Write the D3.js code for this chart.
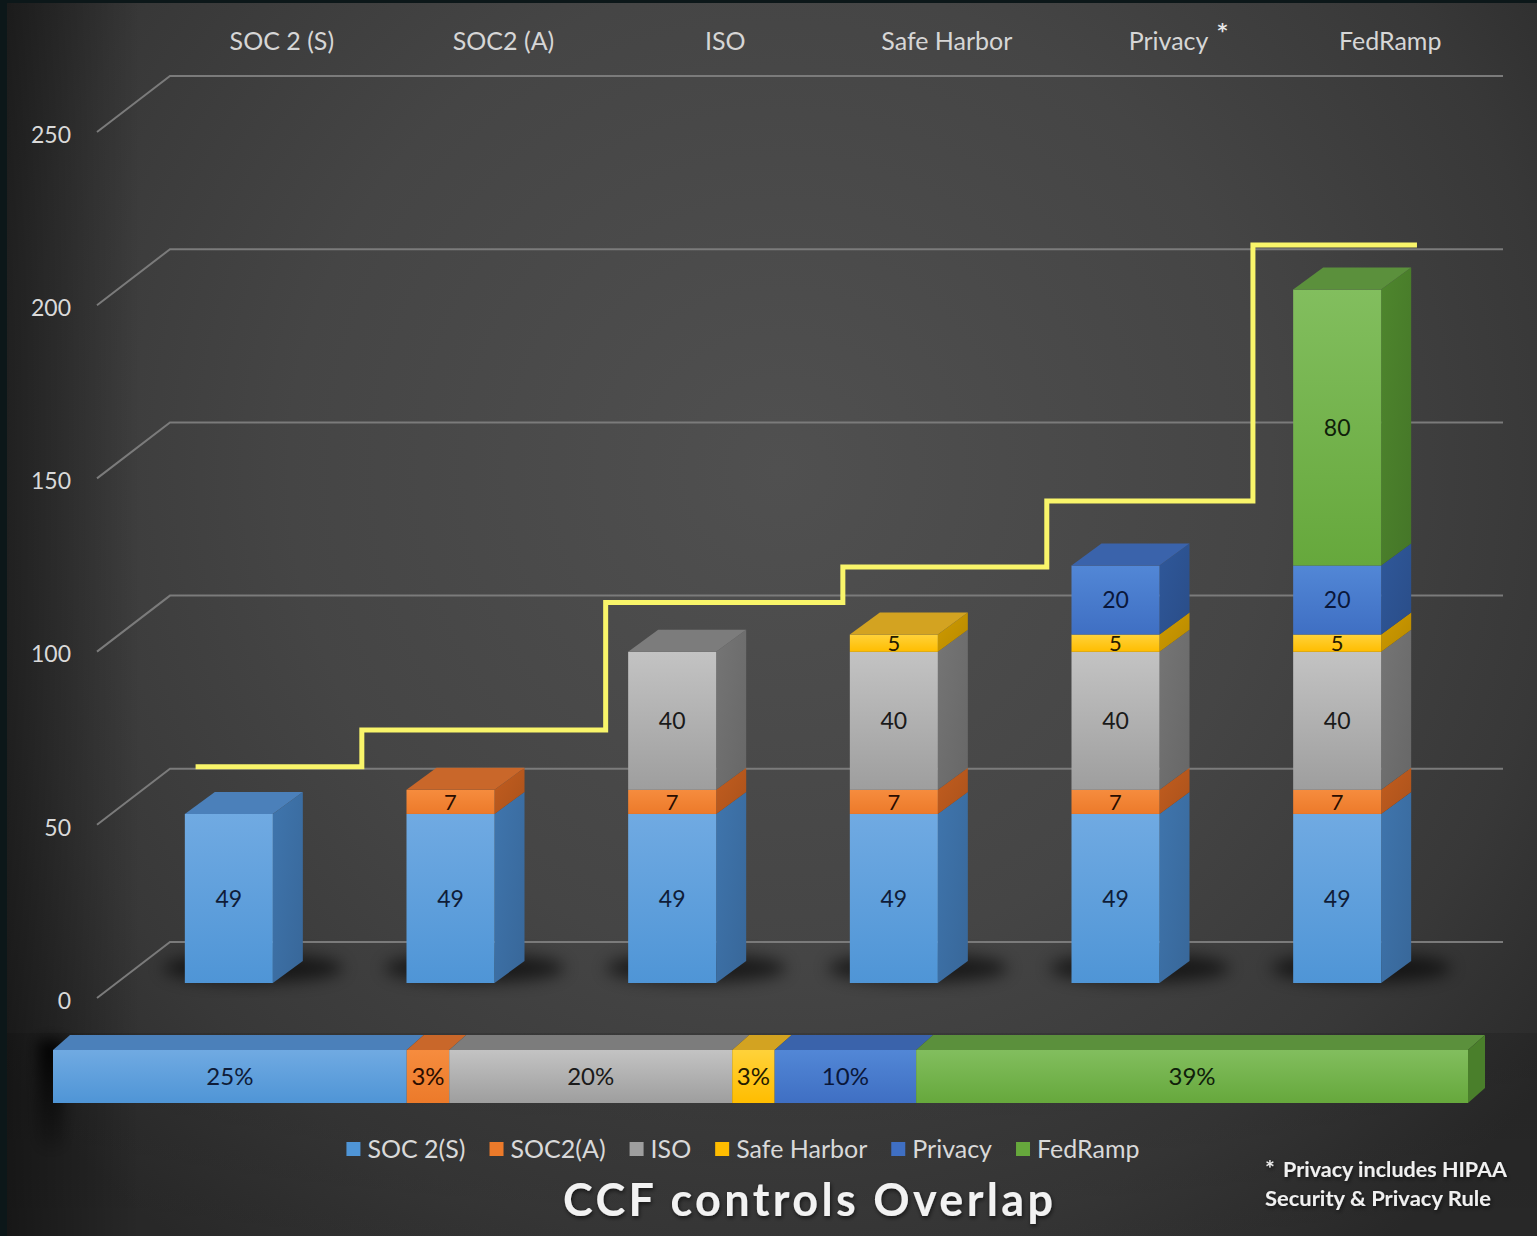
<!DOCTYPE html>
<html><head><meta charset="utf-8">
<script src="https://cdn.jsdelivr.net/npm/d3@7"></script>
<style>html,body{margin:0;padding:0;background:#2e2e2e;}svg{display:block;}</style>
</head><body>
<svg id="chart" width="1537" height="1236"></svg>
<script>
// ---------------- DATA ----------------
const categories = ["SOC 2 (S)", "SOC2 (A)", "ISO", "Safe Harbor", "Privacy", "FedRamp"];
const seriesNames = ["SOC 2(S)", "SOC2(A)", "ISO", "Safe Harbor", "Privacy", "FedRamp"];
const soc2S      = [49, 49, 49, 49, 49, 49];
const soc2A      = [0, 7, 7, 7, 7, 7];
const iso        = [0, 0, 40, 40, 40, 40];
const safeHarbor = [0, 0, 0, 5, 5, 5];
const privacy    = [0, 0, 0, 0, 20, 20];
const fedRamp    = [0, 0, 0, 0, 0, 80];
const yTicks = [0, 50, 100, 150, 200, 250];
const sharePercent = [25, 3, 20, 3, 10, 39];
// yellow cumulative step line (hand drawn overlay): levels in value units, breaks in category-index units
const stepLevels = [62.7, 73.3, 110.3, 120.6, 139.7, 213.9];
const stepBreaks = [-0.15, 0.60, 1.70, 2.77, 3.69, 4.62, 5.36];
const footnoteLines = ["Privacy includes HIPAA", "Security & Privacy Rule"];
const chartTitle = "CCF controls Overlap";

// ---------------- STYLE ----------------
const palette = [
  {f0:"#70aae2", f1:"#4f95d6", side:"#3c6fa4", top:"#4b80ba", txt:"#0f1c38"},
  {f0:"#f68c3e", f1:"#ec7a2a", side:"#b8581d", top:"#c9672a", txt:"#2a0d00"},
  {f0:"#c3c3c3", f1:"#9e9e9e", side:"#6f6f6f", top:"#7c7c7c", txt:"#1a1a1a"},
  {f0:"#ffd23a", f1:"#ffbd00", side:"#c49300", top:"#d3a321", txt:"#241a00"},
  {f0:"#5287d6", f1:"#3f6fc3", side:"#2d5392", top:"#3a63ab", txt:"#0a173a"},
  {f0:"#82be5e", f1:"#66a83c", side:"#4a7f2b", top:"#5b903c", txt:"#0f200a"}
];
const FONT = "Lato, 'Open Sans', sans-serif";
const W = 1537, H = 1236;

const svg = d3.select("#chart");
const defs = svg.append("defs");

// background
const rg = defs.append("radialGradient").attr("id","bg").attr("gradientUnits","userSpaceOnUse")
  .attr("cx",780).attr("cy",470).attr("r",980);
[["0","#505050"],["0.5","#454545"],["0.8","#383838"],["1","#2a2a2a"]].forEach(s=>rg.append("stop").attr("offset",s[0]).attr("stop-color",s[1]));
const lv = defs.append("linearGradient").attr("id","leftVig").attr("x1",0).attr("x2",1).attr("y1",0).attr("y2",0);
lv.append("stop").attr("offset","0").attr("stop-color","#000").attr("stop-opacity",0.45);
lv.append("stop").attr("offset","1").attr("stop-color","#000").attr("stop-opacity",0);
const bb = defs.append("linearGradient").attr("id","bottomBand").attr("x1",0).attr("x2",0).attr("y1",0).attr("y2",1);
bb.append("stop").attr("offset","0").attr("stop-color","#000").attr("stop-opacity",0.12);
bb.append("stop").attr("offset","1").attr("stop-color","#000").attr("stop-opacity",0.05);

const blur = defs.append("filter").attr("id","blur").attr("x","-50%").attr("y","-50%").attr("width","200%").attr("height","200%");
blur.append("feGaussianBlur").attr("stdDeviation",8);
const blur2 = defs.append("filter").attr("id","blur2").attr("x","-150%").attr("y","-50%").attr("width","400%").attr("height","200%");
blur2.append("feGaussianBlur").attr("stdDeviation",7);
const ts = defs.append("filter").attr("id","tshadow").attr("x","-10%").attr("y","-30%").attr("width","120%").attr("height","160%");
ts.append("feDropShadow").attr("dx",1).attr("dy",2).attr("stdDeviation",2).attr("flood-color","#000").attr("flood-opacity",0.6);
const sg = defs.append("linearGradient").attr("id","shareShadow").attr("x1",0).attr("x2",0).attr("y1",0).attr("y2",1);
sg.append("stop").attr("offset","0").attr("stop-color","#000").attr("stop-opacity",0.95);
sg.append("stop").attr("offset","1").attr("stop-color","#000").attr("stop-opacity",0.1);

palette.forEach((p,i)=>{
  const g = defs.append("linearGradient").attr("id","front"+i).attr("x1",0).attr("x2",0).attr("y1",0).attr("y2",1);
  g.append("stop").attr("offset","0").attr("stop-color",p.f0);
  g.append("stop").attr("offset","1").attr("stop-color",p.f1);
  const s = defs.append("linearGradient").attr("id","side"+i).attr("x1",0).attr("x2",1).attr("y1",0).attr("y2",1);
  s.append("stop").attr("offset","0").attr("stop-color",d3.color(p.side).brighter(0.15));
  s.append("stop").attr("offset","1").attr("stop-color",d3.color(p.side).darker(0.2));
});

svg.append("rect").attr("width",W).attr("height",H).attr("fill","url(#bg)");
svg.append("rect").attr("x",0).attr("y",1033).attr("width",W).attr("height",H-1033).attr("fill","url(#bottomBand)");
svg.append("rect").attr("x",0).attr("y",0).attr("width",140).attr("height",H).attr("fill","url(#leftVig)");
svg.append("rect").attr("x",0).attr("y",0).attr("width",7).attr("height",H).attr("fill","#0c1719");
svg.append("rect").attr("x",0).attr("y",0).attr("width",W).attr("height",3).attr("fill","#0c1719");

// ---------------- SCALES ----------------
const x = d3.scaleBand().domain(categories).range([118, 1448]).paddingInner(0.603).paddingOuter(0.3015);
const bw = x.bandwidth();
const y = d3.scaleLinear().domain([0, 250]).range([983, 120.5]);      // bar front plane
const yWall = d3.scaleLinear().domain([0, 250]).range([942, 76]);     // back wall
const yFront = d3.scaleLinear().domain([0, 250]).range([1000, 134]);  // axis label plane
const xIdx = d3.scaleLinear().domain([0, 1]).range([x(categories[0]) + bw/2, x(categories[1]) + bw/2]);
const pct = d3.scaleLinear().domain([0, 100]).range([53, 1468]);
const DX = 30, DY = -22;           // bar depth
const WALL_L = 170, WALL_R = 1503, WDX = -73, WDY = 56;

// ---------------- WALL GRID ----------------
svg.append("g").selectAll("path").data(yTicks).join("path")
  .attr("d", t => `M${WALL_L+WDX},${yWall(t)+WDY}L${WALL_L},${yWall(t)}L${WALL_R},${yWall(t)}`)
  .attr("fill","none").attr("stroke","#7b7b7b").attr("stroke-width",2);

// y axis labels
const yAxis = d3.axisLeft(yFront).tickValues(yTicks).tickSize(0).tickPadding(0);
const gy = svg.append("g").attr("transform","translate(71,0)").call(yAxis);
gy.select(".domain").remove();
gy.selectAll("text").attr("font-family",FONT).attr("font-size",23).attr("fill","#d9d9d9").attr("dy","0.36em");

// top category labels
const xTop = x.copy().range([118+53, 1448+53]);
const xAxis = d3.axisTop(xTop).tickSize(0).tickPadding(0);
const gx = svg.append("g").attr("transform","translate(0,50)").call(xAxis);
gx.select(".domain").remove();
gx.selectAll("text").attr("font-family",FONT).attr("font-size",25).attr("fill","#d6d6d6");
gx.selectAll(".tick").filter(d => d === "Privacy").each(function(){
  const t = d3.select(this).select("text");
  const len = t.node().getComputedTextLength();
  d3.select(this).append("text").attr("x", len/2 + 14).attr("y", -13).attr("text-anchor","middle")
    .attr("font-family","'DejaVu Sans', sans-serif").attr("font-weight","bold").attr("font-size",19).attr("fill","#e6e6e6").text("*");
});

// ---------------- BARS ----------------
const keys = ["a","b","c","d","e","f"];
const valueArrays = [soc2S, soc2A, iso, safeHarbor, privacy, fedRamp];
const rows = categories.map((c,i) => { const r = {cat:c}; keys.forEach((k,j)=> r[k] = valueArrays[j][i]); return r; });
const stacked = d3.stack().keys(keys)(rows);

// floor shadows
svg.append("g").selectAll("ellipse").data(categories).join("ellipse")
  .attr("cx", c => x(c) + bw/2 + 24).attr("cy", 968).attr("rx", bw/2 + 46).attr("ry", 15)
  .attr("fill","#000").attr("opacity",0.6).attr("filter","url(#blur)");

const barsG = svg.append("g");
categories.forEach((c,i) => {
  const x0 = x(c), x1 = x0 + bw;
  let topK = -1;
  keys.forEach((k,j) => { if (valueArrays[j][i] > 0) topK = j; });
  const g = barsG.append("g");
  keys.forEach((k,j) => {
    const v = valueArrays[j][i];
    if (!(v > 0)) return;
    const [v0, v1] = stacked[j][i];
    const yb = y(v0), yt = y(v1);
    g.append("path").attr("d", `M${x1},${yt}L${x1+DX},${yt+DY}L${x1+DX},${yb+DY}L${x1},${yb}Z`).attr("fill",`url(#side${j})`);
    g.append("rect").attr("x",x0).attr("y",yt).attr("width",bw).attr("height",yb-yt).attr("fill",`url(#front${j})`);
    if (j === topK) {
      g.append("path").attr("d", `M${x0},${yt}L${x0+DX},${yt+DY}L${x1+DX},${yt+DY}L${x1},${yt}Z`).attr("fill",palette[j].top);
    }
    g.append("text").attr("x", x0 + bw/2).attr("y", (yt+yb)/2).attr("dy","0.36em")
      .attr("text-anchor","middle").attr("font-family",FONT).attr("font-size", (yb-yt) < 25 ? 22 : 23)
      .attr("fill", palette[j].txt).text(v);
  });
});

// yellow step line
const stepPts = stepLevels.map((l,i)=>[stepBreaks[i], l]).concat([[stepBreaks[stepBreaks.length-1], stepLevels[stepLevels.length-1]]]);
svg.append("path").datum(stepPts)
  .attr("d", d3.line().x(d=>xIdx(d[0])).y(d=>y(d[1])).curve(d3.curveStepAfter))
  .attr("fill","none").attr("stroke","#f9f56a").attr("stroke-width",5).attr("stroke-linejoin","miter");

// ---------------- SHARE BAR ----------------
const PT = 1050, PB = 1103, PDX = 17, PDY = -15;
svg.append("rect").attr("x",38).attr("y",1040).attr("width",26).attr("height",110).attr("fill","url(#shareShadow)").attr("filter","url(#blur2)");
const cum = d3.cumsum(sharePercent);
const shareG = svg.append("g");
sharePercent.forEach((p,i) => {
  const a = pct(cum[i]-p), b = pct(cum[i]);
  shareG.append("path").attr("d",`M${a},${PT}L${a+PDX},${PT+PDY}L${b+PDX},${PT+PDY}L${b},${PT}Z`).attr("fill",palette[i].top);
  shareG.append("rect").attr("x",a).attr("y",PT).attr("width",b-a).attr("height",PB-PT).attr("fill",`url(#front${i})`);
  if (i === sharePercent.length-1) {
    shareG.append("path").attr("d",`M${b},${PT}L${b+PDX},${PT+PDY}L${b+PDX},${PB+PDY}L${b},${PB}Z`).attr("fill",palette[i].side);
  }
  shareG.append("text").attr("x",(a+b)/2).attr("y",(PT+PB)/2).attr("dy","0.36em").attr("text-anchor","middle")
    .attr("font-family",FONT).attr("font-size",24).attr("fill",palette[i].txt).text(p + "%");
});

// ---------------- LEGEND ----------------
const leg = svg.append("g");
let cx = 0;
seriesNames.forEach((n,i) => {
  const it = leg.append("g").attr("transform",`translate(${cx},0)`);
  it.append("rect").attr("x",0).attr("y",-7).attr("width",14).attr("height",14).attr("fill",palette[i].f1);
  const t = it.append("text").attr("x",21).attr("y",0).attr("dy","0.36em").attr("font-family",FONT)
    .attr("font-size",25).attr("fill","#d9d9d9").text(n);
  cx += 21 + t.node().getComputedTextLength() + 24;
});
const legW = cx - 24;
leg.attr("transform",`translate(${743 - legW/2},1149)`);

// ---------------- TITLE & FOOTNOTE ----------------
svg.append("text").attr("x",808).attr("y",1216).attr("text-anchor","middle")
  .attr("font-family",FONT).attr("font-weight","bold").attr("font-size",45)
  .attr("textLength",490).attr("lengthAdjust","spacing")
  .attr("fill","#f2f2f2").attr("filter","url(#tshadow)").text(chartTitle);

const fn = svg.append("g").attr("filter","url(#tshadow)");
fn.append("text").attr("x",1266).attr("y",1172).attr("font-family","'DejaVu Sans', sans-serif").attr("font-weight","bold").attr("font-size",15).attr("fill","#f0f0f0").text("*");
fn.append("text").attr("x",1283).attr("y",1177).attr("font-family",FONT).attr("font-weight","bold").attr("font-size",21)
  .attr("textLength",224).attr("lengthAdjust","spacingAndGlyphs").attr("fill","#f0f0f0").text(footnoteLines[0]);
fn.append("text").attr("x",1265).attr("y",1206).attr("font-family",FONT).attr("font-weight","bold").attr("font-size",21)
  .attr("textLength",226).attr("lengthAdjust","spacingAndGlyphs").attr("fill","#f0f0f0").text(footnoteLines[1]);
</script>
</body></html>
